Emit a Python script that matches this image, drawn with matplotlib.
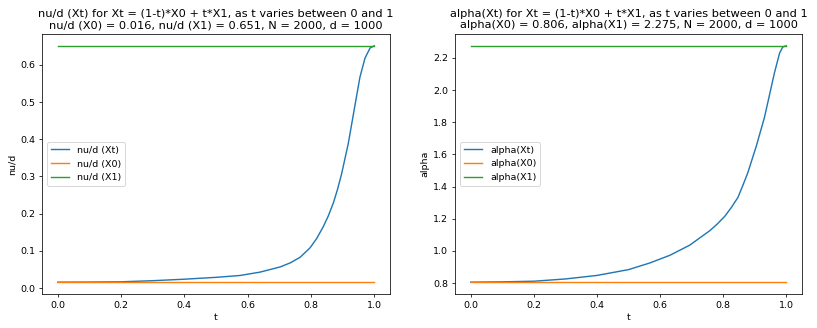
import matplotlib
matplotlib.use("Agg")
import matplotlib.pyplot as plt

# values
t_nu = [0.0, 0.1, 0.2, 0.3, 0.4, 0.5, 0.576, 0.639, 0.703, 0.735, 0.766, 0.797, 0.818,
        0.839, 0.855, 0.871, 0.884, 0.897, 0.918, 0.939, 0.955, 0.971, 0.987, 1.0]
nu_t = [0.016, 0.0163, 0.017, 0.020, 0.024, 0.029, 0.034, 0.043, 0.057, 0.068, 0.083,
        0.108, 0.133, 0.165, 0.194, 0.229, 0.265, 0.307, 0.388, 0.490, 0.567, 0.618,
        0.645, 0.651]
t_alpha = [0.0, 0.1, 0.2, 0.3, 0.4, 0.5, 0.567, 0.631, 0.694, 0.757, 0.78, 0.805, 0.826,
           0.847, 0.862, 0.878, 0.905, 0.931, 0.947, 0.963, 0.979, 0.989, 1.0]
alpha_t = [0.806, 0.808, 0.812, 0.826, 0.848, 0.884, 0.925, 0.973, 1.036, 1.125, 1.165,
           1.215, 1.27, 1.333, 1.405, 1.485, 1.651, 1.83, 1.97, 2.11, 2.23, 2.268, 2.275]

nu_x0, nu_x1 = 0.016, 0.651
alpha_x0, alpha_x1 = 0.806, 2.275
N, d = 2000, 1000

dpi = 68
fig = plt.figure(figsize=(817 / dpi, 328 / dpi), dpi=dpi)
ax1 = fig.add_axes([42 / 817, 1 - 294 / 328, (390 - 42) / 817, (294 - 34) / 328])
ax2 = fig.add_axes([455 / 817, 1 - 294 / 328, (802 - 455) / 817, (294 - 34) / 328])

ax1.plot(t_nu, nu_t, label='nu/d (Xt)')
ax1.plot([0, 1], [nu_x0, nu_x0], label='nu/d (X0)')
ax1.plot([0, 1], [nu_x1, nu_x1], label='nu/d (X1)')
ax1.set_title('nu/d (Xt) for Xt = (1-t)*X0 + t*X1, as t varies between 0 and 1\n'
              f'nu/d (X0) = {nu_x0}, nu/d (X1) = {nu_x1}, N = {N}, d = {d}')
ax1.set_xlabel('t')
ax1.set_ylabel('nu/d')
ax1.legend(loc='center left')

ax2.plot(t_alpha, alpha_t, label='alpha(Xt)')
ax2.plot([0, 1], [alpha_x0, alpha_x0], label='alpha(X0)')
ax2.plot([0, 1], [alpha_x1, alpha_x1], label='alpha(X1)')
ax2.set_title('alpha(Xt) for Xt = (1-t)*X0 + t*X1, as t varies between 0 and 1\n'
              f'alpha(X0) = {alpha_x0}, alpha(X1) = {alpha_x1}, N = {N}, d = {d}')
ax2.set_xlabel('t')
ax2.set_ylabel('alpha')
ax2.legend(loc='center left')

fig.savefig('out.png', dpi=dpi)
